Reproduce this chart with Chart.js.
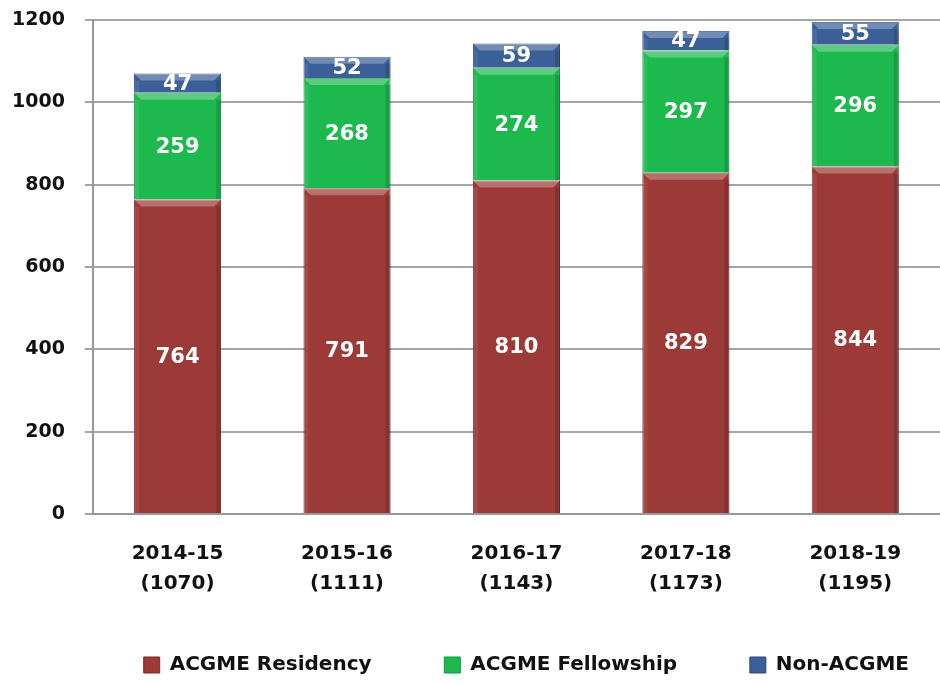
<html>
<head>
<script src="https://cdn.jsdelivr.net/npm/chart.js@4.4.1/dist/chart.umd.min.js"></script>
<style>
  body { margin:0; background:#fff; }
  #wrap { width:940px; height:683px; }
</style>
</head>
<body>
<div id="wrap"><canvas id="bar-chart" width="940" height="683"></canvas></div>
<script>
  // values
  var years = ['2014-15', '2015-16', '2016-17', '2017-18', '2018-19'];
  var totals = [1070, 1111, 1143, 1173, 1195];
  var residency = [764, 791, 810, 829, 844];
  var fellowship = [259, 268, 274, 297, 296];
  var nonAcgme = [47, 52, 59, 47, 55];
  var yTicks = [0, 200, 400, 600, 800, 1000, 1200];

  var FONT = '"DejaVu Sans", Verdana, sans-serif';

  var labs = [];
  for (i = 0; i < years.length; i++) {
    labs.push([years[i], '(' + totals[i] + ')']);
  }

  // white numbers in the middle of each piece
  var segLabels = {
    id: 'segLabels',
    afterDatasetsDraw: function(chart) {
      var ctx = chart.ctx;
      ctx.save();
      ctx.fillStyle = '#fff';
      ctx.font = 'bold 21px ' + FONT;
      ctx.textAlign = 'center';
      ctx.textBaseline = 'middle';
      chart.data.datasets.forEach(function(ds, di) {
        chart.getDatasetMeta(di).data.forEach(function(bar, j) {
          var mid = (bar.y + bar.base) / 2;
          ctx.fillText(ds.data[j], bar.x, mid + 1);
        });
      });
      ctx.restore();
    }
  };

  // a light top edge and darker sides, for the bevelled look
  var bevel = {
    id: 'bevel',
    afterDatasetsDraw: function(chart) {
      var ctx = chart.ctx;
      ctx.save();
      chart.data.datasets.forEach(function(ds, di) {
        chart.getDatasetMeta(di).data.forEach(function(bar) {
          var w = bar.width, x0 = bar.x - w / 2, top = bar.y, h = bar.base - bar.y;
          ctx.fillStyle = 'rgba(255,255,255,0.28)';
          ctx.beginPath();
          ctx.moveTo(x0, top);
          ctx.lineTo(x0 + w, top);
          ctx.lineTo(x0 + w - 7, top + 7);
          ctx.lineTo(x0 + 7, top + 7);
          ctx.closePath();
          ctx.fill();
          ctx.fillStyle = 'rgba(0,0,0,0.14)';
          ctx.fillRect(x0 + w - 5, top + 7, 5, h - 7);
          ctx.fillStyle = 'rgba(255,255,255,0.08)';
          ctx.fillRect(x0, top + 7, 5, h - 7);
        });
      });
      ctx.restore();
    }
  };

  new Chart(document.getElementById('bar-chart'), {
    type: 'bar',
    data: {
      labels: labs,
      datasets: [
        { label: 'ACGME Residency', data: residency, backgroundColor: '#9b3a37', borderColor: '#7a2a28', borderWidth: 1 },
        { label: 'ACGME Fellowship', data: fellowship, backgroundColor: '#1db94f', borderColor: '#12963c', borderWidth: 1 },
        { label: 'Non-ACGME', data: nonAcgme, backgroundColor: '#3b5f97', borderColor: '#2a4879', borderWidth: 1 }
      ]
    },
    options: {
      responsive: false,
      animation: false,
      layout: { padding: { top: 0, right: 0, left: -8, bottom: -2 } },
      datasets: { bar: { categoryPercentage: 1, barPercentage: 0.514 } },
      plugins: {
        legend: {
          position: 'bottom',
          align: 'end',
          labels: {
            color: '#111',
            font: { size: 20, weight: 'bold', family: FONT },
            boxWidth: 16, boxHeight: 16, padding: 31,
            generateLabels: function(chart) {
              var items = Chart.defaults.plugins.legend.labels.generateLabels(chart);
              // extra room after the first two entries
              for (i = 0; i < items.length - 1; i++) items[i].text = items[i].text + '      ';
              return items;
            }
          }
        },
        tooltip: { enabled: false }
      },
      scales: {
        x: {
          stacked: true,
          grid: { display: false, drawTicks: false },
          border: { color: '#999', width: 2 },
          ticks: {
            color: '#111', padding: 25, maxRotation: 0,
            font: { size: 20, weight: 'bold', family: FONT, lineHeight: 1.5 }
          }
        },
        y: {
          stacked: true,
          min: 0, max: 1200,
          afterBuildTicks: function(axis) {
            axis.ticks = yTicks.map(function(v) { return { value: v }; });
          },
          // keep the top of the plot close to the canvas edge
          afterFit: function(axis) {
            axis.paddingTop = 20;
          },
          grid: { color: '#a6a6a6', lineWidth: 2, tickLength: 8 },
          border: { color: '#999', width: 2 },
          ticks: {
            color: '#111', padding: 20,
            font: { size: 19, weight: 'bold', family: FONT },
            callback: function(v) { return String(v); }
          }
        }
      }
    },
    plugins: [bevel, segLabels]
  });
</script>
</body>
</html>
